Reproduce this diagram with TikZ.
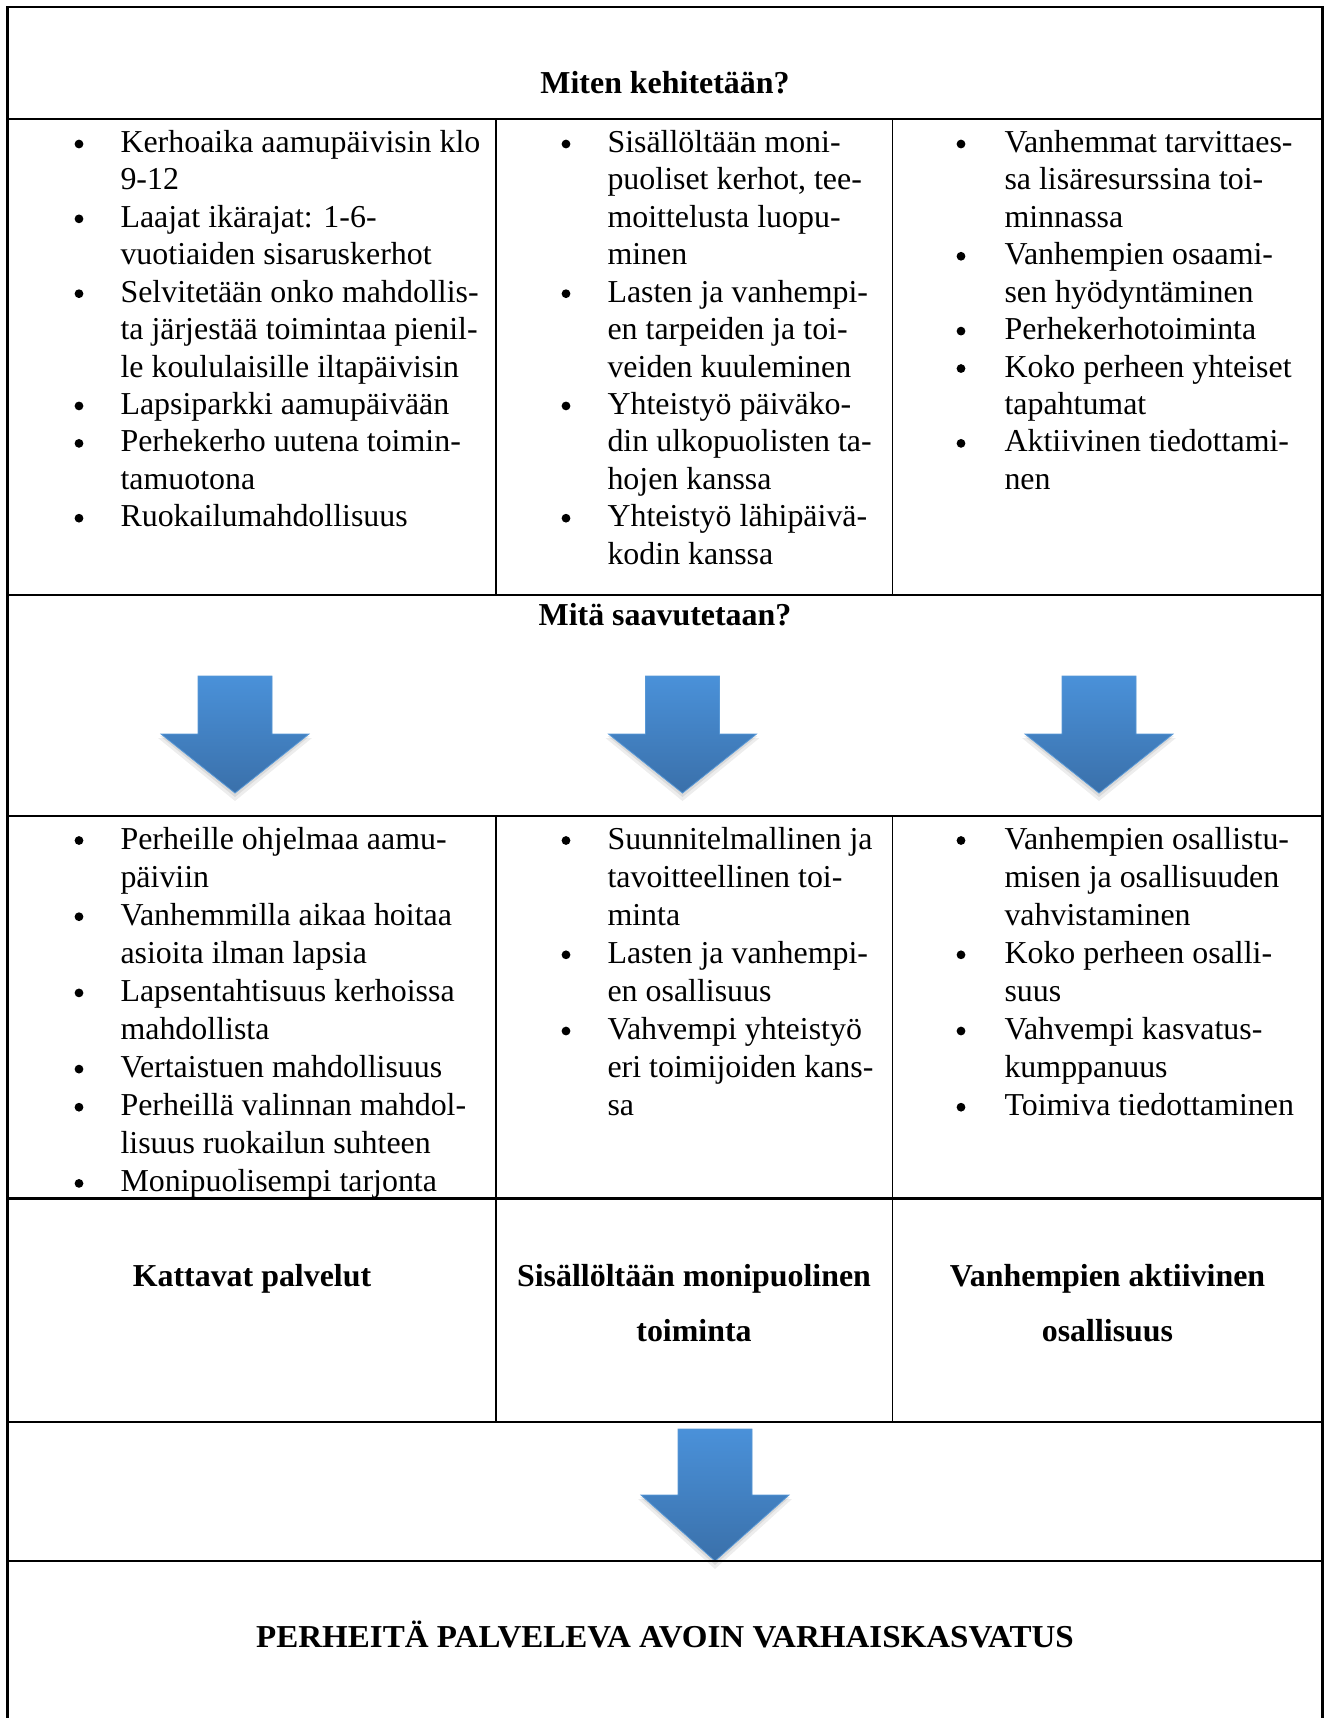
\documentclass[tikz,border=0pt]{standalone}
\usepackage{fontspec}
\setmainfont{Liberation Serif}
\definecolor{arrtop}{RGB}{74,145,217}
\definecolor{arrbot}{RGB}{58,112,170}
\definecolor{arredge}{RGB}{88,152,214}
\newcommand\cellList[6]{%
  \foreach \isb/\lin [count=\i from 0] in {#6} {%
    \node[txt] (#1\i) at (#3,{#4+\i*#5}) {\lin};
    \ifnum\isb=1 \node[bul] (#1b\i) at (#2,{#4+\i*#5-8.5}) {};\fi
  }}
\newcommand\blueArrow[5]{%
  \fill[black,opacity=0.07] (#2-37,#3+4) -- (#2+37,#3+4) -- (#2+37,#4+4) -- (#2+77,#4+4) -- (#2,#5+8) -- (#2-77,#4+4) -- (#2-37,#4+4) -- cycle;
  \fill[black,opacity=0.08] (#2-37,#3+2) -- (#2+37,#3+2) -- (#2+37,#4+2) -- (#2+75,#4+2) -- (#2,#5+4) -- (#2-75,#4+2) -- (#2-37,#4+2) -- cycle;
  \shade[top color=arrtop,bottom color=arrbot,draw=arredge,line width=0.3pt]
    (#2-37,#3) -- (#2+37,#3) -- (#2+37,#4) -- (#2+74,#4) -- (#2,#5) -- (#2-74,#4) -- (#2-37,#4) -- cycle;
  \coordinate (#1) at (#2,#5);
}
\begin{document}
\begin{tikzpicture}[x=0.376pt,y=-0.376pt,
  txt/.style={anchor=base west,inner sep=0pt,font=\fontsize{12}{14}\selectfont},
  hd/.style={anchor=base,inner sep=0pt,font=\fontsize{12}{14}\selectfont\bfseries},
  bul/.style={circle,fill=black,inner sep=0pt,minimum size=3.3pt},
  frame/.style={line width=0.85pt,line cap=rect},
  thin/.style={line width=0.5pt}]
\useasboundingbox[fill=white] (0,0) rectangle (1329,1718);

% arrows (drawn first so the lines lie on top)
\blueArrow{a1}{235}{676}{734}{793}
\blueArrow{a2}{682.5}{676}{734}{793}
\blueArrow{a3}{1099}{676}{734}{793}
\blueArrow{a4}{715}{1429}{1495}{1561}

% outer frame and rows
\draw[frame] (7.5,1730) -- (7.5,7) -- (1322.5,7) -- (1322.5,1730);
\foreach \yy in {119,595,816,1198.6,1422,1561}
  \draw[frame] (7.5,\yy) -- (1322.5,\yy);
% column lines
\draw[thin] (496,119) -- (496,595);
\draw[thin] (892.5,119) -- (892.5,595);
\draw[thin] (496,816) -- (496,1422);
\draw[thin] (892.5,816) -- (892.5,1422);

% headings
\node[hd] (h1) at (665,93) {Miten kehitetään?};
\node[hd] (h2) at (665,625) {Mitä saavutetaan?};
\node[hd] (k1) at (252,1286) {Kattavat palvelut};
\node[hd] (k2a) at (694,1286) {Sisällöltään monipuolinen};
\node[hd] (k2b) at (694,1341) {toiminta};
\node[hd] (k3a) at (1107.5,1286) {Vanhempien aktiivinen};
\node[hd] (k3b) at (1107.5,1341) {osallisuus};
\node[hd] (fin) at (665,1647) {\scalebox{1.035}[1]{PERHEITÄ PALVELEVA AVOIN VARHAISKASVATUS}};

% upper bullet cells
\cellList{ta}{79}{120}{152.5}{37.42}{1/Kerhoaika aamupäivisin klo, 0/9-12, 1/Laajat ikärajat: 1-6-, 0/vuotiaiden sisaruskerhot, 1/Selvitetään onko mahdollis-, 0/ta järjestää toimintaa pienil-, 0/le koululaisille iltapäivisin, 1/Lapsiparkki aamupäivään, 1/Perhekerho uutena toimin-, 0/tamuotona, 1/Ruokailumahdollisuus}
\cellList{tb}{566}{607}{152.5}{37.42}{1/Sisällöltään moni-, 0/{puoliset kerhot, tee-}, 0/moittelusta luopu-, 0/minen, 1/Lasten ja vanhempi-, 0/en tarpeiden ja toi-, 0/veiden kuuleminen, 1/Yhteistyö päiväko-, 0/din ulkopuolisten ta-, 0/hojen kanssa, 1/Yhteistyö lähipäivä-, 0/kodin kanssa}
\cellList{tc}{961}{1004}{152.5}{37.42}{1/Vanhemmat tarvittaes-, 0/sa lisäresurssina toi-, 0/minnassa, 1/Vanhempien osaami-, 0/sen hyödyntäminen, 1/Perhekerhotoiminta, 1/Koko perheen yhteiset, 0/tapahtumat, 1/Aktiivinen tiedottami-, 0/nen}

% lower bullet cells
\cellList{ba}{79}{120}{849}{38.1}{1/Perheille ohjelmaa aamu-, 0/päiviin, 1/Vanhemmilla aikaa hoitaa, 0/asioita ilman lapsia, 1/Lapsentahtisuus kerhoissa, 0/mahdollista, 1/Vertaistuen mahdollisuus, 1/Perheillä valinnan mahdol-, 0/lisuus ruokailun suhteen, 1/Monipuolisempi tarjonta}
\cellList{bb}{566}{607}{849}{38.1}{1/Suunnitelmallinen ja, 0/tavoitteellinen toi-, 0/minta, 1/Lasten ja vanhempi-, 0/en osallisuus, 1/Vahvempi yhteistyö, 0/eri toimijoiden kans-, 0/sa}
\cellList{bc}{961}{1004}{849}{38.1}{1/Vanhempien osallistu-, 0/misen ja osallisuuden, 0/vahvistaminen, 1/Koko perheen osalli-, 0/suus, 1/Vahvempi kasvatus-, 0/kumppanuus, 1/Toimiva tiedottaminen}
\end{tikzpicture}
\end{document}
